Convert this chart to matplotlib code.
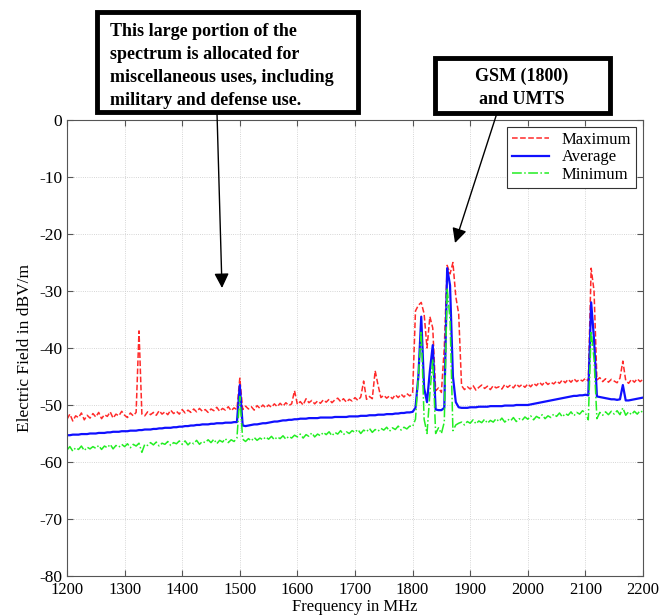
import numpy as np
import matplotlib
matplotlib.use("Agg")
import matplotlib.pyplot as plt
from matplotlib.patches import Rectangle, FancyArrowPatch

plt.rcParams['font.family'] = ['Liberation Serif', 'DejaVu Serif']
plt.rcParams['axes.unicode_minus'] = False

# frequency grid, 5 MHz steps (1200..2200)
freq = np.arange(1200, 2201, 5)

# maximum field, dBV/m
e_max = [
    -52.5, -51.6, -52.8, -51.9, -52.2, -51.4, -52.6, -51.8, -52.3, -51.5,
    -52.1, -51.3, -52.4, -51.7, -52.0, -51.2, -52.3, -51.6, -51.9, -51.1,
    -51.8, -52.2, -51.4, -51.9, -51.3, -37.0, -51.6, -51.9, -51.2, -51.7,
    -51.3, -51.8, -51.0, -51.6, -51.2, -51.7, -50.9, -51.5, -51.1, -51.6,
    -50.8, -51.4, -50.9, -51.3, -50.7, -51.2, -50.6, -51.1, -50.8, -51.3,
    -50.7, -51.0, -50.4, -51.1, -50.6, -50.9, -50.3, -51.0, -50.5, -50.8,
    -45.3, -50.8, -50.2, -50.7, -50.3, -50.9, -50.1, -50.6, -50.0, -50.5,
    -50.0, -50.4, -49.8, -50.3, -49.7, -50.2, -49.6, -50.1, -49.8, -47.5,
    -49.9, -49.4, -50.0, -48.9, -49.6, -49.2, -49.8, -49.3, -49.7, -49.1,
    -49.5, -49.0, -49.6, -49.1, -48.8, -49.4, -48.9, -49.5, -49.0, -49.3,
    -48.7, -49.2, -48.6, -45.8, -49.0, -48.5, -48.9, -44.0, -46.5, -48.7,
    -48.3, -48.8, -48.4, -48.9, -48.2, -48.7, -48.1, -48.6, -48.0, -48.4,
    -48.0, -33.5, -32.5, -32.0, -34.0, -40.0, -34.5, -36.5, -47.5, -47.0,
    -47.8, -40.0, -25.5, -27.0, -25.0, -31.0, -34.0, -46.6, -47.3, -46.8,
    -47.2, -46.6, -47.4, -46.9, -46.5, -47.1, -46.7, -47.3, -46.6, -47.0,
    -46.8, -47.2, -46.4, -46.9, -46.5, -47.0, -46.3, -46.8, -46.4, -46.9,
    -46.3, -46.8, -46.2, -46.6, -46.0, -46.5, -45.9, -46.4, -46.0, -46.3,
    -45.8, -46.2, -45.6, -46.1, -45.5, -46.0, -45.4, -45.9, -45.5, -45.8,
    -45.3, -45.8, -26.0, -30.0, -45.6, -45.2, -45.9, -45.4, -46.0, -45.5,
    -45.8, -46.1, -45.3, -42.3, -45.7, -46.2, -45.5, -46.0, -45.4, -45.9,
    -45.5,
]

# average field
e_avg = [
    -55.3, -55.3, -55.2, -55.2, -55.2, -55.1, -55.1, -55.1, -55.0, -55.0,
    -55.0, -54.9, -54.9, -54.9, -54.8, -54.8, -54.7, -54.7, -54.7, -54.6,
    -54.6, -54.6, -54.5, -54.5, -54.5, -54.4, -54.4, -54.3, -54.3, -54.3,
    -54.2, -54.2, -54.1, -54.1, -54.0, -54.0, -54.0, -53.9, -53.9, -53.8,
    -53.8, -53.7, -53.7, -53.6, -53.6, -53.5, -53.5, -53.4, -53.4, -53.4,
    -53.3, -53.3, -53.2, -53.2, -53.2, -53.1, -53.1, -53.1, -53.0, -53.0,
    -46.5, -53.6, -53.7, -53.6, -53.5, -53.4, -53.4, -53.3, -53.2, -53.2,
    -53.1, -53.0, -52.9, -52.9, -52.8, -52.7, -52.7, -52.6, -52.6, -52.5,
    -52.5, -52.4, -52.4, -52.4, -52.3, -52.3, -52.3, -52.3, -52.2, -52.2,
    -52.2, -52.2, -52.2, -52.1, -52.1, -52.1, -52.1, -52.1, -52.0, -52.0,
    -52.0, -52.0, -51.9, -51.9, -51.9, -51.8, -51.8, -51.8, -51.7, -51.7,
    -51.7, -51.6, -51.6, -51.6, -51.5, -51.5, -51.4, -51.4, -51.3, -51.3,
    -51.2, -50.5, -45.0, -34.5, -47.0, -49.5, -44.0, -39.5, -50.8, -50.9,
    -50.9, -50.5, -26.0, -29.0, -45.0, -49.5, -50.4, -50.5, -50.5, -50.5,
    -50.4, -50.4, -50.4, -50.3, -50.3, -50.3, -50.3, -50.2, -50.2, -50.2,
    -50.2, -50.2, -50.1, -50.1, -50.1, -50.1, -50.0, -50.0, -50.0, -50.0,
    -50.0, -49.9, -49.8, -49.7, -49.6, -49.5, -49.4, -49.3, -49.2, -49.1,
    -49.0, -48.9, -48.8, -48.7, -48.6, -48.5, -48.4, -48.4, -48.3, -48.3,
    -48.2, -48.3, -32.0, -38.5, -48.5, -48.6, -48.7, -48.8, -48.9, -49.0,
    -49.0, -49.1, -49.0, -46.5, -49.2, -49.2, -49.1, -49.0, -48.9, -48.8,
    -48.7,
]

# minimum field
e_min = [
    -57.9, -57.3, -58.1, -57.5, -57.8, -57.2, -58.0, -57.4, -57.7, -57.3,
    -57.6, -57.1, -57.8, -57.2, -57.5, -56.9, -57.7, -57.1, -57.4, -56.9,
    -57.3, -56.8, -57.5, -56.9, -57.2, -56.7, -58.3, -56.9, -57.1, -56.6,
    -57.0, -56.5, -57.2, -56.7, -56.9, -56.4, -57.1, -56.6, -56.8, -56.3,
    -56.9, -56.3, -57.0, -56.5, -56.8, -56.2, -56.9, -56.4, -56.6, -56.1,
    -56.6, -56.0, -56.8, -56.2, -56.5, -55.9, -56.6, -56.1, -56.4, -55.8,
    -48.5, -56.0, -56.4, -55.9, -56.3, -55.7, -56.2, -55.8, -56.1, -55.6,
    -56.0, -55.5, -56.1, -55.6, -55.9, -55.4, -56.0, -55.5, -55.8, -55.3,
    -55.6, -55.1, -55.8, -55.2, -55.5, -54.9, -55.6, -55.1, -55.4, -54.8,
    -55.2, -54.7, -55.4, -54.8, -55.1, -54.5, -55.2, -54.7, -55.0, -54.5,
    -54.8, -54.3, -55.0, -54.4, -54.7, -54.1, -54.8, -54.3, -54.6, -54.1,
    -54.4, -53.9, -54.6, -54.0, -54.3, -53.7, -54.4, -53.9, -54.2, -53.7,
    -53.8, -52.5, -45.0, -37.0, -52.5, -55.0, -48.0, -42.0, -55.0, -54.0,
    -55.0, -53.0, -29.5, -35.0, -54.5, -53.5, -53.2, -53.0, -53.5, -52.9,
    -53.2, -52.6, -53.3, -52.8, -53.1, -52.5, -53.2, -52.7, -53.0, -52.4,
    -52.9, -52.3, -53.0, -52.5, -52.8, -52.2, -52.9, -52.4, -52.7, -52.1,
    -52.5, -51.9, -52.6, -52.0, -52.3, -51.7, -52.4, -51.9, -52.2, -51.6,
    -52.0, -51.4, -52.1, -51.5, -51.8, -51.2, -51.9, -51.3, -51.6, -51.0,
    -51.4, -52.6, -37.0, -42.0, -52.4, -51.3, -51.8, -51.2, -51.7, -51.1,
    -51.6, -51.0, -51.7, -50.5, -51.8, -51.2, -51.7, -51.1, -51.6, -51.0,
    -51.3,
]

W, H = 662, 616
fig = plt.figure(figsize=(W / 100, H / 100), dpi=100)
ax = fig.add_axes([67 / W, 1 - 576 / H, (643 - 67) / W, (576 - 120) / H])

ax.plot(freq, e_max, color='#ff2a2a', ls='--', lw=1.1, label='Maximum')
ax.plot(freq, e_avg, color='#1010ff', ls='-', lw=1.6, label='Average')
ax.plot(freq, e_min, color='#22ee22', ls='-.', lw=1.1, label='Minimum')

ax.set_xlim(1200, 2200)
ax.set_ylim(-80, 0)
ax.set_xticks(np.arange(1200, 2201, 100))
ax.set_yticks(np.arange(-80, 1, 10))
ax.tick_params(direction='in', top=True, right=True, labelsize=12.5, length=4,
               color='#555555')
ax.tick_params(axis='x', pad=4, labelsize=12)
for s in ax.spines.values():
    s.set_color('#555555')
    s.set_linewidth(0.8)
ax.grid(True, ls=':', lw=0.6, color='#c8c8c8')
ax.set_xlabel('Frequency in MHz', fontsize=12, va='center')
ax.xaxis.set_label_coords(0.5, -(607 - 576) / 456)
ax.set_ylabel('Electric Field in dBV/m', fontsize=12.5, labelpad=4)

leg = ax.legend(loc='upper right', fontsize=12, fancybox=False, framealpha=1,
                edgecolor='#333333', handlelength=2.2, borderpad=0.3,
                labelspacing=0.1, borderaxespad=0.4)
leg.get_frame().set_linewidth(0.8)


def px(x, y):
    return (x / W, 1 - y / H)


# annotation boxes
for (x0, y0, x1, y1) in [(97, 12, 358, 112), (435, 58, 610, 113)]:
    fig.add_artist(Rectangle(px(x0, y1), (x1 - x0) / W, (y1 - y0) / H,
                             transform=fig.transFigure, fill=True, fc='white',
                             ec='black', lw=3.5, zorder=5))

fig.text(*px(110, 66), 'This large portion of the\nspectrum is allocated for\n'
         'miscellaneous uses, including\nmilitary and defense use.',
         ha='left', va='center', fontsize=13, fontweight='bold',
         linespacing=1.45, zorder=6)
fig.text(*px(522, 88), 'GSM (1800)\nand UMTS', ha='center', va='center',
         fontsize=13, fontweight='bold', linespacing=1.45, zorder=6)

for (xa, ya, xb, yb) in [(217, 113, 222, 288), (497, 113, 455, 243)]:
    fig.add_artist(FancyArrowPatch(px(xa, ya), px(xb, yb),
                                   transform=fig.transFigure,
                                   arrowstyle='-|>', mutation_scale=22,
                                   lw=1.0, color='black', shrinkA=0,
                                   shrinkB=0, zorder=6))

fig.savefig('out.png', dpi=100)
